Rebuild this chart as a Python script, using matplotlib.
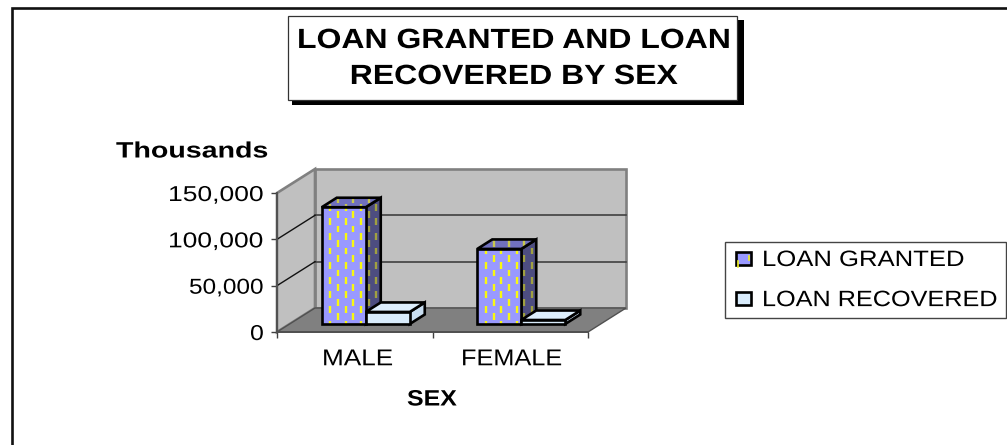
import numpy as np
import matplotlib
matplotlib.use("Agg")
import matplotlib.pyplot as plt
from matplotlib.collections import LineCollection
from matplotlib.lines import Line2D
from matplotlib.patches import Patch, Polygon, Rectangle
from matplotlib.patheffects import AbstractPathEffect
from matplotlib.transforms import Affine2D, IdentityTransform

categories = ["MALE", "FEMALE"]
loan_granted = [126000, 81000]
loan_recovered = [13000, 4300]
y_ticks = [0, 50000, 100000, 150000]
title_text = "LOAN GRANTED AND LOAN\nRECOVERED BY SEX"

W, H = 1007, 445
plt.rcParams["font.family"] = ["Liberation Sans", "DejaVu Sans"]
fig = plt.figure(figsize=(W / 100, H / 100), dpi=100, facecolor="white")
PX = Affine2D().scale(1, -1).translate(0, H)  # layout in reference pixels


class Fit(AbstractPathEffect):
    """Stretch real text horizontally, as the wide text of the reference."""
    def __init__(self, sx, cx, dx):
        super().__init__()
        self.sx, self.cx, self.dx = sx, cx, dx

    def draw_path(self, renderer, gc, tpath, affine, rgbFace=None):
        a = affine + Affine2D().translate(-self.cx, 0).scale(self.sx, 1).translate(self.cx + self.dx, 0)
        renderer.draw_path(gc, tpath, a, rgbFace)


ax = fig.add_axes([277 / W, (H - 332) / H, 311 / W, 139 / H])
ax.set_xlim(0, 2)
ax.set_ylim(0, 150000)
ax.patch.set_visible(False)
for s in ("top", "right"):
    ax.spines[s].set_visible(False)
for s in ("left", "bottom"):
    ax.spines[s].set_color("#505050")
    ax.spines[s].set_linewidth(1.4)
    ax.spines[s].set_zorder(3)

DEPTH = (38, 24)
FRONT = (11, 8)
BACK = (26, 17.5)


def depth(d):
    return ax.transData + Affine2D().translate(*d)


def pts(corners):
    """Corners given as (x, value, (dx, dy)) -> display coordinates."""
    return np.array([depth(d).transform((x, v)) for x, v, d in corners])


def face(corners, color, z, ec="none", lw=0):
    p = Polygon(pts(corners), closed=True, fc=color, ec=ec, lw=lw,
                transform=IdentityTransform(), zorder=z, clip_on=False, joinstyle="miter")
    ax.add_patch(p)
    return p


O = (0, 0)
top = y_ticks[-1]
face([(0, 0, DEPTH), (2, 0, DEPTH), (2, top, DEPTH), (0, top, DEPTH)], "#C0C0C0", 1, "#808080", 1.9)
face([(0, 0, O), (0, 0, DEPTH), (0, top, DEPTH), (0, top, O)], "#C0C0C0", 1, "#808080", 1.9)
face([(0, 0, O), (2, 0, O), (2, 0, DEPTH), (0, 0, DEPTH)], "#808080", 1.2, "#505050", 1.0)

for v in y_ticks[1:-1]:
    ax.plot([0, 2], [v, v], color="#404040", lw=1.2, transform=depth(DEPTH), zorder=1.5, clip_on=False)
    a, b = pts([(0, v, O), (0, v, DEPTH)])
    ax.plot([a[0], b[0]], [a[1], b[1]], color="#111111", lw=1.0,
            transform=IdentityTransform(), zorder=1.5, clip_on=False)


def dashes(bounds, poly, color, z):
    x0, x1, y0, y1 = bounds
    segs = []
    for i, cx in enumerate(np.arange(x0 + 8.7, x1, 7.65)):
        for cy in np.arange(y0 - 14.6 + (i % 2) * 7.3, y1 + 14.6, 14.6):
            segs.append([(cx, cy - 3.4), (cx, cy + 3.4)])
    lc = LineCollection(segs, colors=color, linewidths=1.7, transform=IdentityTransform(), zorder=z)
    ax.add_collection(lc, autolim=False)
    lc.set_clip_path(poly)


def bar(x0, x1, v, z, colors, pattern=None):
    f = [(x0, 0, FRONT), (x1, 0, FRONT), (x1, v, FRONT), (x0, v, FRONT)]
    s = [(x1, 0, FRONT), (x1, 0, BACK), (x1, v, BACK), (x1, v, FRONT)]
    t = [(x0, v, FRONT), (x1, v, FRONT), (x1, v, BACK), (x0, v, BACK)]
    fp = pts(f)
    allp = np.vstack([fp, pts(s), pts(t)])
    bounds = (fp[:, 0].min(), allp[:, 0].max(), allp[:, 1].min(), allp[:, 1].max())
    for k, (c, corners) in enumerate(zip(colors, (s, t, f))):
        p = face(corners, c, z + k * 0.01)
        if pattern:
            dashes(bounds, p, pattern[k], z + k * 0.01 + 0.002)
        face(corners, "none", z + k * 0.01 + 0.004, "black", 1.9)


BW = 0.283
GRANTED_C = ("#4D4D80", "#7070BE", "#9999FF")
GRANTED_P = ("#A0A040", "#C8C850", "#F8F810")
RECOV_C = ("#C8DDF0", "#DDEEFC", "#D8EBFB")
for i, (g, r) in enumerate(zip(loan_granted, loan_recovered)):
    c = i + 0.5
    bar(c - BW, c, g, 2 + i, GRANTED_C, GRANTED_P)
    bar(c, c + BW, r, 2.5 + i, RECOV_C)

ax.set_yticks(y_ticks)
ax.set_yticklabels([f"{v:,}" for v in y_ticks], fontsize=15.5)
ax.set_xticks([0, 1, 2])
ax.set_xticklabels([])
ax.set_xticks([0.5, 1.5], minor=True)
ax.set_xticklabels(categories, minor=True, fontsize=16.5)
ax.tick_params(axis="both", which="major", length=4.5, width=1, color="#404040")
ax.tick_params(axis="y", pad=5.5)
ax.tick_params(axis="x", which="minor", length=0, pad=11)

# outer frame
fig.add_artist(Line2D([11.5, 11.5, W], [H, 7.5, 7.5], color="#111111", lw=1.9,
                      transform=PX, solid_joinstyle="miter"))

# title box with drop shadow
fig.add_artist(Rectangle((292, 20), 452, 85, fc="black", ec="none", transform=PX))
fig.add_artist(Rectangle((287.5, 15.5), 449, 84, fc="white", ec="#333333", lw=0.9, transform=PX))
title = fig.text(514, 59, title_text, transform=PX, ha="center", va="center", ma="center",
                 fontsize=20, fontweight="bold", linespacing=1.5, color="black")

y_title = fig.text(116, 152, "Thousands", transform=PX, ha="left", va="center",
                   fontsize=16, fontweight="bold", color="black")
x_title = fig.text(432, 400, "SEX", transform=PX, ha="center", va="center",
                   fontsize=16, fontweight="bold", color="black")

# legend
fig.add_artist(Rectangle((724.5, 241.5), 281, 76, fc="white", ec="#444444", lw=1.0, transform=PX))
handles = [Patch(fc="#9999FF", ec="black", lw=1.9), Patch(fc="#D8EBFB", ec="black", lw=1.9)]
leg = fig.legend(handles, ["LOAN GRANTED", "LOAN RECOVERED"], loc="upper left", frameon=False,
                 bbox_to_anchor=(736 / W, 1 - 250 / H), borderpad=0, borderaxespad=0,
                 handlelength=0.66, handleheight=0.54, handletextpad=0.5, labelspacing=0.86, fontsize=16)
leg.set_zorder(5)
for x0, y0, y1 in [(737.5, 261, 267), (748.5, 256, 260)]:
    fig.add_artist(Line2D([x0, x0], [y0, y1], color="#F0F020", lw=1.2, transform=PX, zorder=6))

fig.canvas.draw()


def fit(t, x0, x1):
    e = t.get_window_extent()
    t.set_path_effects([Fit((x1 - x0) / e.width, e.x0, x0 - e.x0)])


fit(title, 297, 730)
fit(y_title, 116, 268)
fit(x_title, 407, 457)
for lab, rng in zip(ax.get_yticklabels(), [(250, 264), (189, 264), (168, 264), (168, 264)]):
    fit(lab, *rng)
for lab, rng in zip(ax.get_xticklabels(minor=True), [(322, 393), (461, 562)]):
    fit(lab, *rng)
for lab, rng in zip(leg.get_texts(), [(762, 965), (762, 998)]):
    fit(lab, *rng)

fig.savefig("out.png", dpi=100, facecolor="white")
